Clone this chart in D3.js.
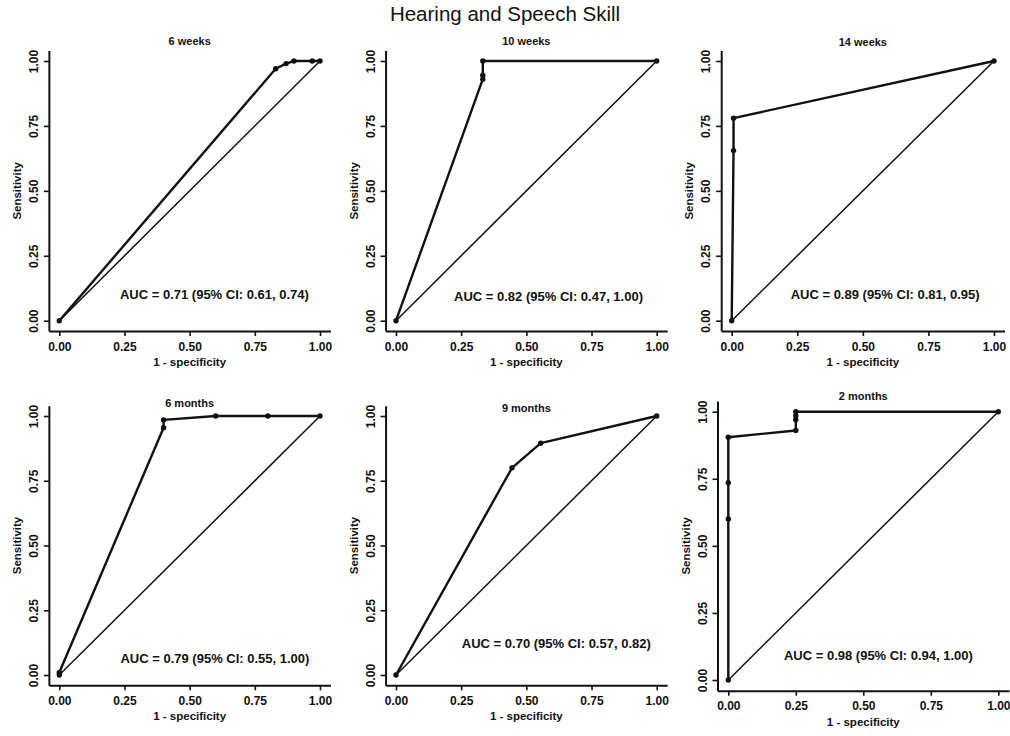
<!DOCTYPE html>
<html>
<head>
<meta charset="utf-8">
<script src="https://cdn.jsdelivr.net/npm/d3@7"></script>
<style>
  body { margin: 0; background: #fff; }
  text { font-family: "Liberation Sans", Arial, sans-serif; fill: #111; }
</style>
</head>
<body>
<div id="chart-area"></div>
<script>
// ROC points (1 - specificity, sensitivity)
const w6Fpr = [0, 0.83, 0.87, 0.90, 0.97, 1];
const w6Tpr = [0, 0.97, 0.99, 1, 1, 1];
const w10Fpr = [0, 0.333, 0.333, 0.333, 1];
const w10Tpr = [0, 0.93, 0.945, 1, 1];
const w14Fpr = [0, 0.007, 0.007, 1];
const w14Tpr = [0, 0.655, 0.78, 1];
const m6Fpr = [0, 0, 0.4, 0.4, 0.6, 0.8, 1];
const m6Tpr = [0, 0.01, 0.955, 0.985, 1, 1, 1];
const m9Fpr = [0, 0.445, 0.555, 1];
const m9Tpr = [0, 0.80, 0.895, 1];
const m2Fpr = [0, 0, 0, 0, 0.25, 0.25, 0.25, 0.25, 1];
const m2Tpr = [0, 0.60, 0.735, 0.905, 0.93, 0.97, 0.985, 1, 1];

const panelTitles = ['6 weeks', '10 weeks', '14 weeks', '6 months', '9 months', '2 months'];
const aucLabels = [
  'AUC = 0.71 (95% CI: 0.61, 0.74)',
  'AUC = 0.82 (95% CI: 0.47, 1.00)',
  'AUC = 0.89 (95% CI: 0.81, 0.95)',
  'AUC = 0.79 (95% CI: 0.55, 1.00)',
  'AUC = 0.70 (95% CI: 0.57, 0.82)',
  'AUC = 0.98 (95% CI: 0.94, 1.00)'
];
const tickValues = [0, 0.25, 0.5, 0.75, 1];

const rocFpr = [w6Fpr, w10Fpr, w14Fpr, m6Fpr, m9Fpr, m2Fpr];
const rocTpr = [w6Tpr, w10Tpr, w14Tpr, m6Tpr, m9Tpr, m2Tpr];

// pixel box of the [0,1] data square in each panel, plus text placement
const layout = [
  { x0: 59.3, x1: 320, y1: 61, y0: 320.7, titleDy: 20, aucX: 0.595, aucY: 0.10 },
  { x0: 396, x1: 656.7, y1: 61, y0: 320.7, titleDy: 20, aucX: 0.585, aucY: 0.095 },
  { x0: 731.7, x1: 994, y1: 61, y0: 320.7, titleDy: 19, aucX: 0.585, aucY: 0.10 },
  { x0: 59.3, x1: 320, y1: 416, y0: 675, titleDy: 13, aucX: 0.597, aucY: 0.065 },
  { x0: 396, x1: 656.7, y1: 416, y0: 675, titleDy: 8, aucX: 0.615, aucY: 0.12 },
  { x0: 728.3, x1: 998.3, y1: 411.7, y0: 680, titleDy: 16, aucX: 0.556, aucY: 0.093 }
];

const pad = 0.04;

const svg = d3.select('#chart-area')
  .append('svg')
    .attr('width', 1010)
    .attr('height', 736);

svg.append('rect')
  .attr('width', 1010)
  .attr('height', 736)
  .attr('fill', '#fff');

svg.append('text')
  .attr('x', 505)
  .attr('y', 21)
  .attr('text-anchor', 'middle')
  .style('font-size', '20.5px')
  .text('Hearing and Speech Skill');

layout.forEach((p, i) => {
  const w = p.x1 - p.x0;
  const h = p.y0 - p.y1;
  const x = d3.scaleLinear()
    .domain([-pad, 1 + pad])
    .range([p.x0 - pad * w, p.x1 + pad * w]);
  const y = d3.scaleLinear()
    .domain([-pad, 1 + pad])
    .range([p.y0 + pad * h, p.y1 - pad * h]);

  const g = svg.append('g').attr('class', 'panel');
  const axisBottomY = y(-pad);
  const axisLeftX = x(-pad);

  const xAxis = d3.axisBottom(x)
    .tickValues(tickValues)
    .tickFormat(d3.format('.2f'))
    .tickSize(5)
    .tickSizeOuter(0)
    .tickPadding(6);
  const yAxis = d3.axisLeft(y)
    .tickValues(tickValues)
    .tickFormat(d3.format('.2f'))
    .tickSize(5)
    .tickSizeOuter(0);

  const gx = g.append('g')
    .attr('transform', 'translate(0,' + axisBottomY + ')')
    .call(xAxis);
  const gy = g.append('g')
    .attr('transform', 'translate(' + axisLeftX + ',0)')
    .call(yAxis);

  [gx, gy].forEach(a => {
    a.select('.domain').attr('stroke', '#111').attr('stroke-width', 2);
    a.selectAll('.tick line').attr('stroke', '#111').attr('stroke-width', 1.6);
    a.selectAll('.tick text')
      .attr('fill', '#111')
      .style('font-family', '"Liberation Sans", Arial, sans-serif')
      .style('font-weight', 'bold')
      .style('font-size', '12px');
  });

  gy.selectAll('.tick text')
    .attr('x', 0)
    .attr('dy', null)
    .attr('text-anchor', 'middle')
    .attr('transform', 'translate(-11,0) rotate(-90)');

  g.append('text')
    .attr('x', x(0.5))
    .attr('y', axisBottomY + 35)
    .attr('text-anchor', 'middle')
    .style('font-weight', 'bold')
    .style('font-size', '11.5px')
    .text('1 - specificity');

  g.append('text')
    .attr('transform', 'translate(' + (axisLeftX - 28) + ',' + y(0.5) + ') rotate(-90)')
    .attr('text-anchor', 'middle')
    .style('font-weight', 'bold')
    .style('font-size', '11.5px')
    .text('Sensitivity');

  g.append('text')
    .attr('x', x(0.5))
    .attr('y', y(1) - p.titleDy + 4)
    .attr('text-anchor', 'middle')
    .style('font-weight', 'bold')
    .style('font-size', '11px')
    .text(panelTitles[i]);

  // chance diagonal
  g.append('line')
    .attr('x1', x(0))
    .attr('y1', y(0))
    .attr('x2', x(1))
    .attr('y2', y(1))
    .attr('stroke', '#111')
    .attr('stroke-width', 1.5);

  const pts = rocFpr[i].map((f, k) => [f, rocTpr[i][k]]);
  const line = d3.line()
    .x(d => x(d[0]))
    .y(d => y(d[1]));

  g.append('path')
    .datum(pts)
    .attr('d', line)
    .attr('fill', 'none')
    .attr('stroke', '#111')
    .attr('stroke-width', 2.4)
    .attr('stroke-linejoin', 'round');

  g.selectAll('.pt')
    .data(pts)
    .join('circle')
    .attr('class', 'pt')
    .attr('cx', d => x(d[0]))
    .attr('cy', d => y(d[1]))
    .attr('r', 2.7)
    .attr('fill', '#111');

  g.append('text')
    .attr('x', x(p.aucX))
    .attr('y', y(p.aucY) + 4.5)
    .attr('text-anchor', 'middle')
    .style('font-weight', 'bold')
    .style('font-size', '13px')
    .text(aucLabels[i]);
});
</script>
</body>
</html>
